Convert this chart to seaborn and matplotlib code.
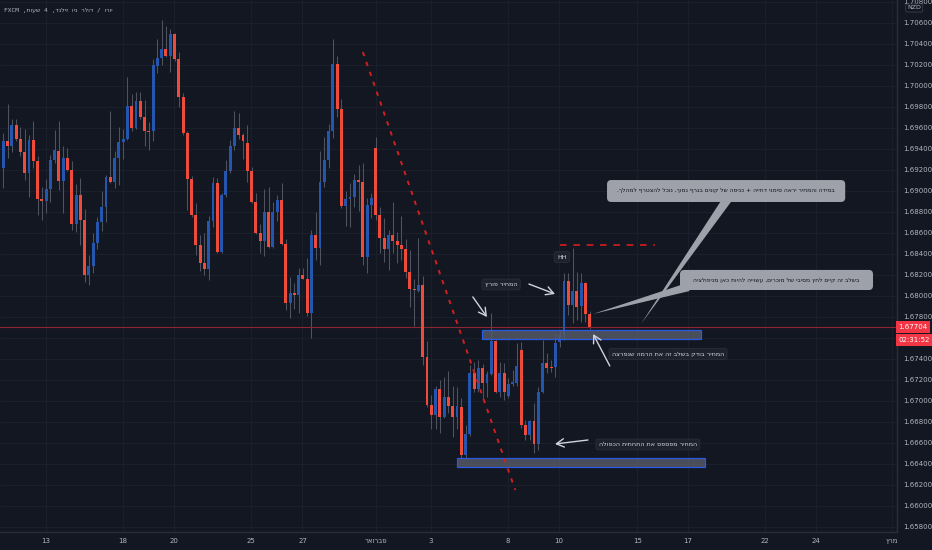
import re
import numpy as np
import pandas as pd
import matplotlib
matplotlib.use("Agg")
import matplotlib.pyplot as plt
import matplotlib.transforms as mtransforms
from matplotlib.patches import FancyBboxPatch, Polygon, Rectangle
import seaborn as sns

# EUR/NZD 4h candles
opens = [
    1.69218, 1.69474, 1.69427, 1.69627, 1.69493, 1.69370, 1.69170, 1.69484, 1.69284, 1.68922,
    1.68903, 1.69017, 1.69294, 1.69379, 1.69093, 1.69313, 1.69199, 1.68685, 1.68960, 1.68723,
    1.68199, 1.68285, 1.68503, 1.68704, 1.68846, 1.69132, 1.69084, 1.69313, 1.69465, 1.69493,
    1.69808, 1.69599, 1.69855, 1.69703, 1.69569, 1.69569, 1.70189, 1.70265, 1.70350, 1.70284,
    1.70493, 1.70255, 1.69893, 1.69550, 1.69113, 1.68770, 1.68484, 1.68313, 1.68256, 1.68713,
    1.69074, 1.68418, 1.68960, 1.69189, 1.69427, 1.69599, 1.69531, 1.69455, 1.69189, 1.68894,
    1.68598, 1.68522, 1.68799, 1.68465, 1.68799, 1.68913, 1.68494, 1.67932, 1.68027, 1.68008,
    1.68199, 1.68161, 1.67837, 1.68579, 1.68456, 1.69084, 1.69294, 1.69569, 1.70208, 1.69779,
    1.68856, 1.68922, 1.68941, 1.69103, 1.69084, 1.68370, 1.68865, 1.69408, 1.68770, 1.68551,
    1.68446, 1.68579, 1.68522, 1.68484, 1.68446, 1.68228, 1.68065, 1.68046, 1.68103, 1.67418,
    1.66961, 1.66866, 1.67113, 1.66847, 1.67037, 1.66952, 1.66847, 1.66942, 1.66485, 1.66685,
    1.67266, 1.67113, 1.67314, 1.67170, 1.67257, 1.67570, 1.67085, 1.67266, 1.67047, 1.67161,
    1.67170, 1.67485, 1.66771, 1.66675, 1.66809, 1.66590, 1.67085, 1.67361, 1.67323, 1.67323,
    1.67561, 1.67599, 1.68141, 1.67913, 1.68046, 1.67904, 1.68122, 1.67828,
]
highs = [
    1.69550, 1.69827, 1.69684, 1.69684, 1.69608, 1.69589, 1.69531, 1.69665, 1.69332, 1.69036,
    1.69113, 1.69341, 1.69579, 1.69665, 1.69427, 1.69408, 1.69284, 1.69065, 1.69123, 1.68827,
    1.68389, 1.68598, 1.68751, 1.68998, 1.69151, 1.69760, 1.69379, 1.69608, 1.69589, 1.70084,
    1.69922, 1.69941, 1.69941, 1.69865, 1.69656, 1.70255, 1.70445, 1.70627, 1.70570, 1.70541,
    1.70502, 1.70322, 1.69931, 1.69569, 1.69142, 1.68884, 1.68579, 1.68598, 1.68761, 1.69132,
    1.69123, 1.68979, 1.69294, 1.69484, 1.69760, 1.69741, 1.69550, 1.69627, 1.69227, 1.68979,
    1.68685, 1.69017, 1.69036, 1.68894, 1.68960, 1.69074, 1.68541, 1.68180, 1.68122, 1.68266,
    1.68266, 1.68361, 1.68627, 1.68799, 1.69379, 1.69512, 1.69637, 1.70445, 1.70284, 1.69874,
    1.68998, 1.69074, 1.69161, 1.69246, 1.69265, 1.68932, 1.68979, 1.69512, 1.68846, 1.68742,
    1.68627, 1.68894, 1.68608, 1.68761, 1.68541, 1.68437, 1.68161, 1.68551, 1.68190, 1.67570,
    1.67056, 1.67142, 1.67199, 1.67228, 1.67285, 1.67142, 1.67132, 1.67028, 1.66771, 1.67342,
    1.67371, 1.67390, 1.67352, 1.67285, 1.67837, 1.67580, 1.67371, 1.67361, 1.67219, 1.67295,
    1.67551, 1.67561, 1.66819, 1.66819, 1.66980, 1.67132, 1.67580, 1.67456, 1.67390, 1.67637,
    1.67675, 1.68218, 1.68218, 1.68456, 1.68228, 1.68218, 1.68132, 1.67856,
]
lows = [
    1.69027, 1.69313, 1.69370, 1.69474, 1.69332, 1.69103, 1.68941, 1.69218, 1.68770, 1.68723,
    1.68789, 1.68894, 1.69265, 1.69008, 1.68789, 1.69189, 1.68627, 1.68608, 1.68484, 1.68132,
    1.68103, 1.68218, 1.68446, 1.68617, 1.68704, 1.69074, 1.69027, 1.69055, 1.69303, 1.69484,
    1.69569, 1.69589, 1.69684, 1.69427, 1.69389, 1.69474, 1.70122, 1.70198, 1.70274, 1.70132,
    1.70236, 1.69798, 1.69531, 1.68818, 1.68751, 1.68389, 1.68237, 1.68199, 1.68151, 1.68656,
    1.68408, 1.68408, 1.68941, 1.69170, 1.69389, 1.69493, 1.69303, 1.69084, 1.68884, 1.68589,
    1.68408, 1.68380, 1.68456, 1.68456, 1.68713, 1.68484, 1.67866, 1.67790, 1.67875, 1.67837,
    1.68161, 1.67809, 1.67599, 1.68342, 1.68294, 1.69036, 1.69218, 1.69503, 1.69703, 1.68837,
    1.68666, 1.68656, 1.68846, 1.68808, 1.68294, 1.68218, 1.68742, 1.68723, 1.68408, 1.68323,
    1.68247, 1.68408, 1.68313, 1.68342, 1.68171, 1.67894, 1.67714, 1.68037, 1.67342, 1.66942,
    1.66733, 1.66733, 1.66694, 1.66838, 1.66885, 1.66656, 1.66733, 1.66447, 1.66457, 1.66666,
    1.67085, 1.67085, 1.67009, 1.67037, 1.67247, 1.67075, 1.67037, 1.67009, 1.67028, 1.67142,
    1.67142, 1.66743, 1.66628, 1.66628, 1.66504, 1.66533, 1.67075, 1.67266, 1.67276, 1.67228,
    1.67513, 1.67580, 1.67818, 1.67742, 1.67771, 1.67752, 1.67752, 1.67685,
]
closes = [
    1.69474, 1.69427, 1.69627, 1.69493, 1.69370, 1.69170, 1.69484, 1.69284, 1.68922, 1.68903,
    1.69017, 1.69294, 1.69389, 1.69093, 1.69313, 1.69199, 1.68685, 1.68960, 1.68723, 1.68199,
    1.68285, 1.68503, 1.68704, 1.68846, 1.69132, 1.69084, 1.69313, 1.69465, 1.69493, 1.69808,
    1.69599, 1.69855, 1.69703, 1.69569, 1.69560, 1.70198, 1.70265, 1.70350, 1.70284, 1.70493,
    1.70255, 1.69893, 1.69550, 1.69113, 1.68770, 1.68484, 1.68313, 1.68256, 1.68713, 1.69074,
    1.68418, 1.68960, 1.69189, 1.69427, 1.69599, 1.69531, 1.69474, 1.69189, 1.68894, 1.68598,
    1.68522, 1.68799, 1.68465, 1.68799, 1.68913, 1.68494, 1.67932, 1.68027, 1.68008, 1.68199,
    1.68161, 1.67837, 1.68579, 1.68456, 1.69084, 1.69294, 1.69569, 1.70208, 1.69779, 1.68856,
    1.68922, 1.68941, 1.69103, 1.69084, 1.68370, 1.68865, 1.68932, 1.68770, 1.68551, 1.68446,
    1.68579, 1.68522, 1.68484, 1.68446, 1.68228, 1.68065, 1.68056, 1.68103, 1.67418, 1.66961,
    1.66866, 1.67113, 1.66847, 1.67037, 1.66952, 1.66847, 1.66952, 1.66485, 1.66685, 1.67266,
    1.67113, 1.67314, 1.67170, 1.67257, 1.67570, 1.67085, 1.67266, 1.67085, 1.67161, 1.67180,
    1.67333, 1.66771, 1.66675, 1.66809, 1.66590, 1.67085, 1.67361, 1.67314, 1.67314, 1.67551,
    1.67627, 1.68141, 1.67913, 1.68046, 1.67894, 1.68122, 1.67828, 1.67704,
]

time_labels = ["13", "18", "20", "25", "27", "פברואר", "3", "8", "10", "15", "17", "22", "24", "מרץ"]
time_pos = [9.9, 28.0, 39.9, 57.9, 69.9, 87.1, 99.9, 117.9, 129.8, 148.1, 160.0, 178.0, 189.9, 207.6]
price_ticks = [1.658, 1.660, 1.662, 1.664, 1.666, 1.668, 1.670, 1.672, 1.674, 1.676, 1.678, 1.680,
               1.682, 1.684, 1.686, 1.688, 1.690, 1.692, 1.694, 1.696, 1.698, 1.700, 1.702, 1.704,
               1.706, 1.708]
last_price = 1.67704
countdown = "02:31:52"
title = "יורו / דולר ניו זילנד, 4 שעות, FXCM"

BG = "#131722"
UP = "#2456b0"
DOWN = "#ee4b3b"
WICK = "#4f5360"
TXT = "#b2b5be"
GREY = "#9ea1a9"

sns.set_theme(style="dark", rc={"axes.facecolor": BG, "figure.facecolor": BG,
                                "axes.grid": True, "grid.color": "#1b1f2b", "grid.linewidth": 0.8})
plt.rcParams["font.family"] = ["DejaVu Sans"]


def rtl(s):
    # matplotlib has no bidi support, so put Hebrew runs in visual order by hand
    parts = re.findall(r"[A-Za-z0-9]+|[^A-Za-z0-9]+", s)
    return "".join(p if re.match(r"[A-Za-z0-9]", p) else p[::-1] for p in reversed(parts))


df = pd.DataFrame({"open": opens, "high": highs, "low": lows, "close": closes})
df["x"] = np.arange(len(df))
up = df["close"] >= df["open"]
body_lo = np.minimum(df["open"], df["close"])
body_h = np.maximum((df["close"] - df["open"]).abs(), 0.0001)

fig = plt.figure(figsize=(9.32, 5.5), dpi=100)
ax = fig.add_axes([0, 18 / 550, 897 / 932, 532 / 550])
x0, x1 = -0.77, 208.8
y0, y1 = 1.65752, 1.70817
ax.set_xlim(x0, x1)
ax.set_ylim(y0, y1)

ax.vlines(df["x"], df["low"], df["high"], color=WICK, lw=0.75, zorder=2)
ax.bar(df["x"], body_h, bottom=body_lo, width=0.68,
       color=np.where(up, UP, DOWN), lw=0, zorder=3)

# axes styling
ax.set_xticks(time_pos)
ax.set_xticklabels([rtl(t) for t in time_labels])
ax.set_yticks(price_ticks)
ax.set_yticklabels(["" if abs(p - 1.676) < 1e-9 else f"{p:.5f}" for p in price_ticks])
ax.yaxis.tick_right()
ax.tick_params(axis="y", length=0, pad=4.5, labelsize=5, labelcolor=TXT)
ax.tick_params(axis="x", length=0, pad=4, labelsize=5, labelcolor=TXT)
for side in ["top", "left"]:
    ax.spines[side].set_visible(False)
for side in ["right", "bottom"]:
    ax.spines[side].set_color("#2a2e39")
    ax.spines[side].set_linewidth(1)

trans = mtransforms.blended_transform_factory(ax.transAxes, ax.transData)
aspect = ((y1 - y0) / 532) / ((x1 - x0) / 897)

# last price line and labels
ax.axhline(last_price, color="#8c2630", lw=0.8, zorder=2.5)
ax.text(1.0015, last_price, f"{last_price:.5f}", transform=trans, ha="left", va="center",
        fontsize=5, color="white", clip_on=False,
        bbox=dict(boxstyle="square,pad=0.4", fc="#f23645", ec="none"))
ax.text(1.0015, 1.67578, countdown, transform=trans, ha="left", va="center",
        fontsize=5, color="white", clip_on=False,
        bbox=dict(boxstyle="square,pad=0.4", fc="#f23645", ec="none"))
ax.text(1.0115, 1.70741, "NZD", transform=trans, ha="left", va="center", fontsize=4.5,
        color=TXT, clip_on=False,
        bbox=dict(boxstyle="round,pad=0.25", fc=BG, ec="#434651", lw=0.5))

# zones
ax.add_patch(Rectangle((111.8, 1.67590), 51.2, 0.00085, fc="#555966", ec="#2962ff",
                       lw=0.9, alpha=0.85, zorder=4))
ax.add_patch(Rectangle((106.0, 1.66371), 58.0, 0.00086, fc="#555966", ec="#2962ff",
                       lw=0.9, alpha=0.85, zorder=4))

# red dashed trend line and HH level
ax.plot([84.0, 119.6], [1.70322, 1.66152], color="#d41f1f", lw=1.4,
        ls=(0, (2.2, 3.2)), zorder=5)
ax.plot([130.1, 152.3], [1.68485, 1.68485], color="#d41f1f", lw=1.2,
        ls=(0, (4, 4)), zorder=5)

# callouts
ax.add_patch(Polygon([(167.5, 1.68894), (170.0, 1.68894), (149.0, 1.67733)],
                     closed=True, fc=GREY, ec="none", zorder=6))
ax.add_patch(Polygon([(159.0, 1.68113), (160.4, 1.68047), (137.8, 1.67828)],
                     closed=True, fc=GREY, ec="none", zorder=6))
ax.add_patch(FancyBboxPatch((141.05, 1.68894), 55.65, 0.00209,
                            boxstyle="round,pad=0,rounding_size=1.0",
                            mutation_aspect=aspect, fc=GREY, ec="none", zorder=6))
ax.add_patch(FancyBboxPatch((158.1, 1.68056), 45.1, 0.00191,
                            boxstyle="round,pad=0,rounding_size=1.0",
                            mutation_aspect=aspect, fc=GREY, ec="none", zorder=6))
ax.text(168.9, 1.68999, rtl("במידה והמחיר יראה סימני דחייה + כניסה של קונים בגרף נמוך, נוכל להצטרף למהלך."),
        ha="center", va="center", fontsize=4.3, color="#131722", zorder=7)
ax.text(180.65, 1.68151, rtl("בשלב זה קיים לחץ מסיבי של מוכרים, עשוייה להיות כאן מניפולציה"),
        ha="center", va="center", fontsize=4.3, color="#131722", zorder=7)


def label(x, y, s):
    ax.text(x, y, rtl(s), ha="center", va="center", fontsize=4.6, color="#d1d4dc", zorder=7,
            bbox=dict(boxstyle="round,pad=0.45,rounding_size=0.3", fc="#1e222d",
                      ec="#2a2e39", lw=0.6))


def arrow(tail, head):
    ax.annotate("", xy=head, xytext=tail, zorder=7,
                arrowprops=dict(arrowstyle="->,head_length=0.45,head_width=0.25",
                                color="#d1d4dc", lw=1.0, shrinkA=0, shrinkB=0))


label(130.5, 1.68370, "HH")
label(116.3, 1.68109, "המחיר פורץ")
label(155.3, 1.67447, "המחיר בודק בשלב זה את הרמה שנפרצה")
label(150.6, 1.66585, "המחיר מפספס את התחתית הכפולה")
arrow((109.7, 1.67990), (113.0, 1.67799))
arrow((122.8, 1.68113), (128.9, 1.68018))
arrow((141.7, 1.67333), (137.8, 1.67637))
arrow((136.6, 1.66628), (128.9, 1.66590))

fig.text(4 / 932, 1 - 10 / 550, rtl(title), ha="left", va="center", fontsize=4.4,
         family=["DejaVu Sans Mono", "DejaVu Sans"], color=TXT)

fig.savefig("out.png", dpi=100, facecolor=BG)
